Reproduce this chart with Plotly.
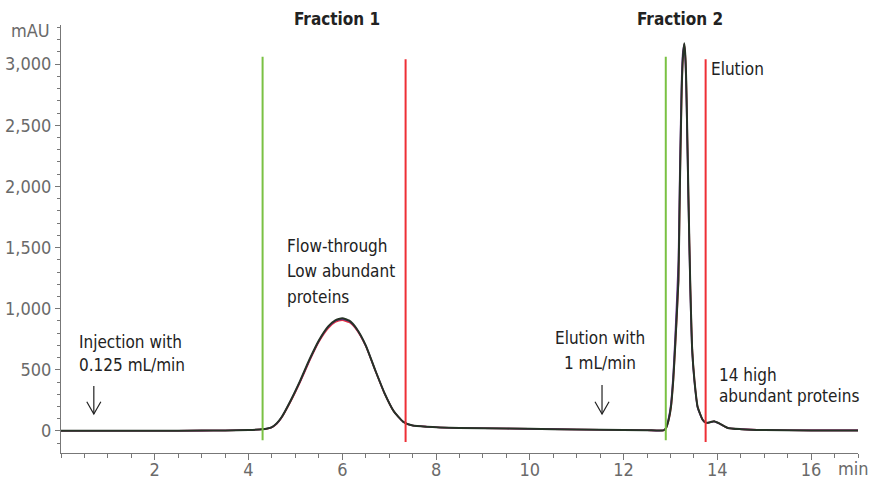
import plotly.graph_objects as go

# ---- data ----
time_min = [0, 1, 2, 3, 3.5, 4.0, 4.3, 4.4, 4.5, 4.6, 4.7, 4.9, 5.1, 5.3, 5.5, 5.7, 5.85, 6.0,
            6.15, 6.3, 6.5, 6.7, 6.9, 7.1, 7.3, 7.5, 7.8, 8.5, 9.5, 10.5, 11.5, 12.5, 12.85,
            12.90, 12.96, 13.01, 13.06, 13.10, 13.17, 13.20, 13.24, 13.265, 13.295, 13.32,
            13.34, 13.38, 13.42, 13.46, 13.51, 13.58, 13.69, 13.76, 13.85, 13.93, 14.05,
            14.22, 14.5, 15, 16, 17]
run_black = [2, 2, 2, 3, 4, 8, 14, 20, 32, 62, 110, 250, 410, 585, 740, 855, 905, 922,
             902, 840, 700, 500, 310, 160, 75, 45, 35, 25, 20, 15, 10, 6, 5,
             20, 90, 196, 420, 690, 1235, 1980, 2800, 3050, 3170, 3050,
             2800, 1980, 1235, 690, 420, 196, 90, 68, 72, 80, 60,
             25, 15, 8, 5, 5]
run_red = [2, 2, 2, 3, 4, 8, 14, 19, 30, 58, 105, 242, 400, 572, 728, 840, 890, 905,
           888, 830, 695, 498, 308, 160, 75, 45, 35, 25, 20, 15, 10, 6, 5,
           18, 85, 190, 410, 675, 1215, 1960, 2780, 3040, 3165, 3050,
           2810, 2000, 1250, 700, 425, 198, 90, 68, 72, 80, 60,
           25, 15, 8, 5, 5]
run_purple = [2, 2, 2, 3, 4, 8, 14, 20, 31, 60, 108, 248, 405, 580, 735, 850, 900, 915,
              896, 836, 698, 499, 309, 160, 75, 45, 35, 25, 20, 15, 10, 6, 5,
              24, 105, 225, 470, 770, 1400, 2150, 2900, 3100, 3160, 3000,
              2720, 1900, 1180, 660, 405, 190, 88, 67, 71, 79, 59,
              25, 15, 8, 5, 5]

fraction_start = [4.3, 12.9]
fraction_end = [7.35, 13.75]
fraction_labels = ["Fraction 1", "Fraction 2"]
fraction_label_x = [5.88, 13.2]

y_tickvals = [0, 500, 1000, 1500, 2000, 2500, 3000]
x_tickvals = [2, 4, 6, 8, 10, 12, 14, 16]

FONT = "Liberation Sans Narrow, DejaVu Sans Condensed, Arial Narrow, sans-serif"
TXT = "#222222"
GRAY = "#6a6a6a"

fig = go.Figure()
fig.add_trace(go.Scatter(x=time_min, y=run_red, mode="lines",
                         line=dict(color="#e8323c", width=1.6, shape="spline", smoothing=0.5),
                         hoverinfo="skip", showlegend=False))
fig.add_trace(go.Scatter(x=time_min, y=run_purple, mode="lines",
                         line=dict(color="#6b2c91", width=1.6, shape="spline", smoothing=0.5),
                         hoverinfo="skip", showlegend=False))
fig.add_trace(go.Scatter(x=time_min, y=run_black, mode="lines",
                         line=dict(color="#263326", width=2, shape="spline", smoothing=0.5),
                         hoverinfo="skip", showlegend=False))

shapes = []
for xs in fraction_start:
    shapes.append(dict(type="line", xref="x", yref="y", x0=xs, x1=xs, y0=-75, y1=3060,
                       line=dict(color="#7ac143", width=2)))
for xe in fraction_end:
    shapes.append(dict(type="line", xref="x", yref="y", x0=xe, x1=xe, y0=-90, y1=3040,
                       line=dict(color="#ee2f36", width=2)))

# hand-drawn style down arrows
def down_arrow(x, y_top, y_tip):
    shapes.append(dict(type="line", xref="x", yref="y", x0=x, x1=x, y0=y_top, y1=y_tip,
                       line=dict(color=TXT, width=1.2)))
    shapes.append(dict(type="path", xref="x", yref="y",
                       path=f"M {x-0.15},{y_tip+100} L {x},{y_tip} L {x+0.15},{y_tip+100}",
                       line=dict(color=TXT, width=1.2)))

down_arrow(0.70, 368, 139)
down_arrow(11.54, 376, 139)

annotations = []
for lab, lx in zip(fraction_labels, fraction_label_x):
    annotations.append(dict(text=f"<b>{lab}</b>", x=lx, y=1.014, xref="x", yref="y domain",
                            showarrow=False, xanchor="center", yanchor="middle",
                            font=dict(family=FONT, size=17, color=TXT)))

def txt(t, x, y, anchor="left"):
    annotations.append(dict(text=t, x=x, y=y, xref="x", yref="y", showarrow=False,
                            xanchor=anchor, yanchor="middle",
                            xshift=-3 if anchor == "left" else 0,
                            font=dict(family=FONT, size=17, color=TXT)))

txt("Elution", 13.88, 2960)
txt("Flow-through", 4.84, 1513)
txt("Low abundant", 4.84, 1308)
txt("proteins", 4.84, 1096)
txt("Injection with", 0.40, 728)
txt("0.125 mL/min", 0.40, 540)
txt("Elution with", 11.5, 760, "center")
txt("1 mL/min", 11.5, 556, "center")
txt("14 high", 14.06, 458)
txt("abundant proteins", 14.06, 286)

annotations.append(dict(text="mAU", x=-0.011, y=0.988, xref="x domain", yref="y domain",
                        showarrow=False, xanchor="right", yanchor="middle",
                        font=dict(family=FONT, size=18, color=GRAY)))
annotations.append(dict(text="min", x=0.994, y=-0.037, xref="x domain", yref="y domain",
                        showarrow=False, xanchor="center", yanchor="middle",
                        font=dict(family=FONT, size=18, color=GRAY)))

fig.update_layout(
    width=869, height=481,
    margin=dict(l=61, r=11, t=25, b=28),
    paper_bgcolor="white", plot_bgcolor="white",
    separators=".,",
    shapes=shapes, annotations=annotations,
    font=dict(family=FONT, size=15, color=GRAY),
)
fig.update_xaxes(range=[0, 17], tickvals=x_tickvals, ticks="outside", ticklen=6,
                 tickcolor="#777", showline=True, linecolor="#777", linewidth=1,
                 showgrid=False, zeroline=False, automargin=False,
                 tickfont=dict(family=FONT, size=18, color=GRAY),
                 minor=dict(dtick=0.5, tick0=0, ticks="outside", ticklen=4, tickcolor="#777"))
try:
    fig.update_xaxes(ticklabelstandoff=-6)
except Exception:
    fig.update_xaxes(ticklen=3, tickfont=dict(size=16))
fig.update_yaxes(range=[-180, 3320], tickvals=y_tickvals, tickformat=",d", ticks="outside",
                 ticklen=5, tickcolor="#777", showline=True, linecolor="#777", linewidth=1,
                 showgrid=False, zeroline=False, automargin=False,
                 tickfont=dict(family=FONT, size=18, color=GRAY),
                 minor=dict(dtick=100, tick0=0, ticks="outside", ticklen=3, tickcolor="#777"))

fig.write_html("out.html", config={"displayModeBar": False},
               post_script="document.body.style.margin='0';document.body.style.overflow='hidden';")
